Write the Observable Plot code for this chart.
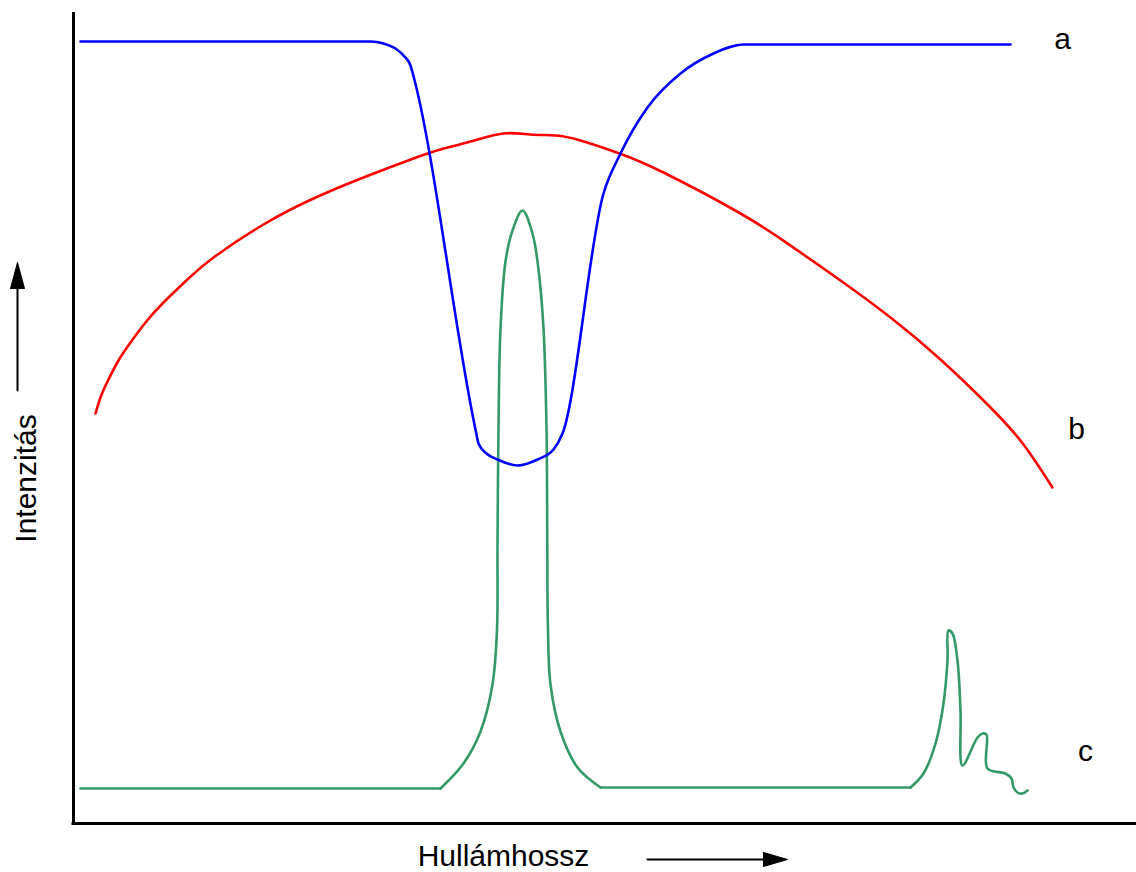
<!DOCTYPE html>
<html>
<head>
<meta charset="utf-8">
<script src="https://cdn.jsdelivr.net/npm/d3@7"></script>
<script src="https://cdn.jsdelivr.net/npm/@observablehq/plot@0.6"></script>
<style>
  html, body { margin: 0; padding: 0; background: #fff; }
  #chart svg { display: block; }
</style>
</head>
<body>
<div id="chart"></div>
<script>
// Wavelength (arbitrary units) and intensity (arbitrary units)
const curveA = [
  [80, 782], [370, 782], [383, 780], [395, 775], [404, 767], [410, 758], [412, 751],
  [475, 394], [478, 380], [486, 370], [497, 364], [517, 358], [537, 364], [553, 374],
  [562, 390], [603, 630], [620, 670], [647, 716], [680, 750], [713, 770], [743, 779],
  [1010, 779]
];
const curveB = [
  [95, 410], [100, 426], [107, 442], [118, 463], [130, 481], [145, 501], [163, 521],
  [188, 545], [213, 566], [263, 599], [313, 625], [363, 646], [413, 665], [440, 674],
  [470, 682], [503, 690], [530, 689], [555, 688], [580, 683], [619, 670], [663, 651],
  [740, 610], [790, 578], [840, 543], [890, 506], [940, 464], [990, 416], [1023, 379],
  [1052, 336]
];
const curveC = [
  [80, 35], [440, 35], [463, 60], [480, 92], [492, 139], [496.5, 194], [497, 277],
  [498, 396], [500, 495], [505, 562], [512, 593], [522, 613], [532, 590], [538, 554],
  [543, 495], [546, 396], [546.8, 277], [547.4, 198], [550, 139], [560, 92], [577, 56],
  [600, 36], [910, 36], [923, 50], [935, 80], [943, 120], [947, 163], [948, 193],
  [952, 190], [957, 163], [960, 113], [962, 58], [977, 86], [982, 90], [986, 89],
  [987, 55], [1005, 50], [1011, 45], [1013, 36], [1017, 31], [1022, 30], [1027, 33]
];
// wavelength where each flat baseline stretch of curve c ends / begins
const cBaseline1End = 440, cPeakEnd = 600, cBaseline2End = 910;

const seriesLabels = [
  {text: "a", x: 1062, y: 784},
  {text: "b", x: 1076, y: 394},
  {text: "c", x: 1085, y: 72}
];
const axisTitles = [
  {text: "Hullámhossz", x: 503, y: -33, rotate: 0},
  {text: "Intenzitás", x: 26, y: 345, rotate: -90}
];
const arrowUpShaft = [[17, 433], [17, 538]];
const arrowUpHead = [[10, 535], [24, 535], [17, 561], [10, 535]];
const arrowRightShaft = [[647, -36], [765, -36]];
const arrowRightHead = [[763, -29], [763, -43], [787, -36], [763, -29]];
const xOrigin = 73, xEnd = 1136, yTop = 811;

const font = "'Liberation Sans', Arial, Helvetica, sans-serif";
const px = d => d[0], py = d => d[1];
const green = "#339966";

const cBase1 = curveC.filter(d => d[0] <= cBaseline1End);
const cPeak1 = curveC.filter(d => d[0] >= cBaseline1End && d[0] <= cPeakEnd);
const cBase2 = curveC.filter(d => d[0] >= cPeakEnd && d[0] <= cBaseline2End);
const cPeak2 = curveC.filter(d => d[0] >= cBaseline2End);

const chart = Plot.plot({
  width: 1136,
  height: 872,
  marginLeft: 73,
  marginRight: 0,
  marginTop: 12,
  marginBottom: 49,
  x: {domain: [xOrigin, xEnd], axis: null},
  y: {domain: [0, yTop], axis: null},
  style: {fontFamily: font, background: "#fff", overflow: "visible"},
  marks: [
    Plot.ruleX([xOrigin], {y1: 0, y2: yTop, stroke: "#000", strokeWidth: 3}),
    Plot.ruleY([0], {x1: xOrigin - 1.5, x2: xEnd, stroke: "#000", strokeWidth: 3}),
    Plot.line(curveB, {x: px, y: py, stroke: "#ff0000", strokeWidth: 2.6, curve: "natural"}),
    Plot.line(cBase1, {x: px, y: py, stroke: green, strokeWidth: 2.6, curve: "linear"}),
    Plot.line(cPeak1, {x: px, y: py, stroke: green, strokeWidth: 2.6, curve: "catmull-rom", strokeLinejoin: "round"}),
    Plot.line(cBase2, {x: px, y: py, stroke: green, strokeWidth: 2.6, curve: "linear"}),
    Plot.line(cPeak2, {x: px, y: py, stroke: green, strokeWidth: 2.6, curve: "catmull-rom"}),
    Plot.line(curveA, {x: px, y: py, stroke: "#0000ff", strokeWidth: 2.6, curve: "monotone-x"}),
    Plot.line(arrowUpShaft, {x: px, y: py, stroke: "#000", strokeWidth: 2}),
    Plot.line(arrowUpHead, {x: px, y: py, stroke: "#000", strokeWidth: 1, fill: "#000"}),
    Plot.line(arrowRightShaft, {x: px, y: py, stroke: "#000", strokeWidth: 2}),
    Plot.line(arrowRightHead, {x: px, y: py, stroke: "#000", strokeWidth: 1, fill: "#000"}),
    Plot.text(seriesLabels, {x: "x", y: "y", text: "text", fontSize: 30, fill: "#000"}),
    Plot.text(axisTitles, {x: "x", y: "y", text: "text", rotate: "rotate", fontSize: 30, fill: "#000"})
  ]
});
document.getElementById("chart").appendChild(chart);
</script>
</body>
</html>
